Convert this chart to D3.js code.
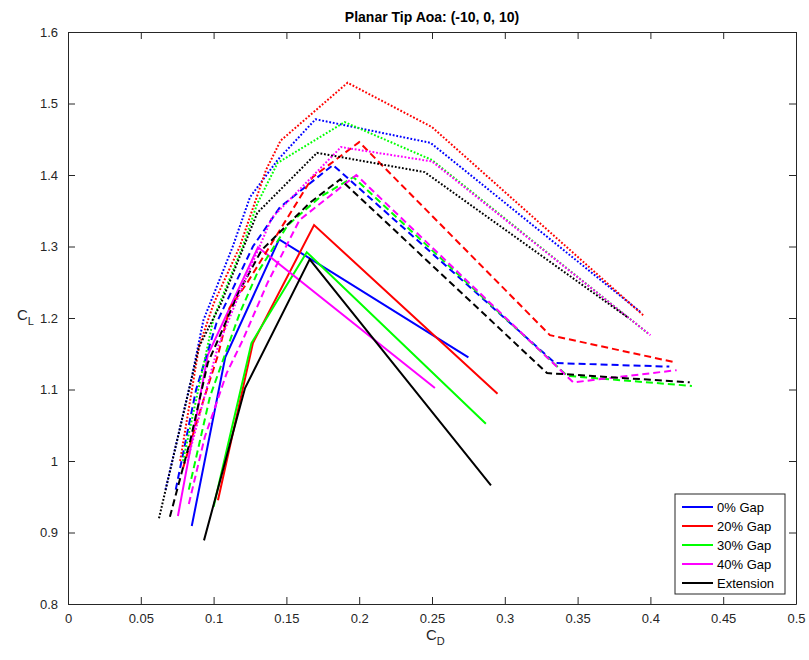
<!DOCTYPE html>
<html>
<head>
<meta charset="utf-8">
<script src="https://cdn.jsdelivr.net/npm/d3@7"></script>
<style>
  body { margin: 0; background: #fff; }
  text { font-family: "Liberation Sans", Arial, sans-serif; }
</style>
</head>
<body>
<svg id="chart"></svg>
<script>
// series names and colours
const names = ['0% Gap', '20% Gap', '30% Gap', '40% Gap', 'Extension']
const colors = ['#0000ff', '#ff0000', '#00ff00', '#ff00ff', '#000000']

// tip aoa -10 (solid), [CD, CL]
const solid = [
  [[0.085, 0.909], [0.108, 1.145], [0.145, 1.310], [0.275, 1.145]],
  [[0.103, 0.945], [0.127, 1.165], [0.169, 1.330], [0.295, 1.094]],
  [[0.100, 0.936], [0.126, 1.165], [0.164, 1.292], [0.287, 1.052]],
  [[0.0755, 0.923], [0.096, 1.148], [0.1305, 1.299], [0.252, 1.102]],
  [[0.0934, 0.889], [0.1216, 1.102], [0.166, 1.282], [0.2905, 0.966]]
]

// tip aoa 0 (dashed)
const dashed = [
  [[0.074, 0.960], [0.088, 1.100], [0.102, 1.193], [0.127, 1.300], [0.1456, 1.355], [0.182, 1.414], [0.3345, 1.137], [0.413, 1.132]],
  [[0.079, 0.990], [0.093, 1.085], [0.103, 1.148], [0.111, 1.214], [0.123, 1.249], [0.168, 1.397], [0.200, 1.446], [0.331, 1.176], [0.417, 1.138]],
  [[0.083, 0.960], [0.0907, 1.029], [0.0975, 1.090], [0.118, 1.207], [0.130, 1.263], [0.151, 1.330], [0.173, 1.369], [0.196, 1.397], [0.343, 1.119], [0.4285, 1.105]],
  [[0.083, 0.940], [0.094, 1.034], [0.102, 1.081], [0.109, 1.123], [0.120, 1.169], [0.137, 1.249], [0.159, 1.337], [0.198, 1.400], [0.347, 1.110], [0.418, 1.127]],
  [[0.070, 0.922], [0.084, 1.029], [0.096, 1.137], [0.106, 1.183], [0.117, 1.235], [0.133, 1.295], [0.166, 1.361], [0.187, 1.394], [0.329, 1.123], [0.427, 1.110]]
]

// tip aoa 10 (dotted)
const dotted = [
  [[0.067, 0.960], [0.085, 1.117], [0.093, 1.197], [0.113, 1.299], [0.125, 1.369], [0.144, 1.421], [0.170, 1.478], [0.249, 1.445], [0.394, 1.207]],
  [[0.077, 1.000], [0.090, 1.160], [0.100, 1.220], [0.118, 1.300], [0.136, 1.407], [0.146, 1.448], [0.192, 1.529], [0.250, 1.467], [0.395, 1.204]],
  [[0.079, 1.000], [0.100, 1.200], [0.120, 1.300], [0.130, 1.360], [0.144, 1.417], [0.190, 1.474], [0.250, 1.421], [0.398, 1.179]],
  [[0.082, 1.000], [0.095, 1.100], [0.103, 1.160], [0.121, 1.250], [0.140, 1.340], [0.1875, 1.439], [0.250, 1.419], [0.400, 1.176]],
  [[0.0625, 0.920], [0.090, 1.160], [0.105, 1.220], [0.130, 1.347], [0.171, 1.431], [0.245, 1.404], [0.385, 1.200]]
]

const xTicks = d3.range(0, 0.5001, 0.05)
const yTicks = d3.range(0.8, 1.6001, 0.1)

const W = 809, H = 660
const m = {left: 68, top: 32, right: 13, bottom: 56}
const svg = d3.select('#chart').attr('width', W).attr('height', H)

let x = d3.scaleLinear().domain([0, 0.5]).range([m.left, W - m.right])
let y = d3.scaleLinear().domain([0.8, 1.6]).range([H - m.bottom, m.top])

let line = d3.line().x(d => x(d[0])).y(d => y(d[1]))

let styles = [
  {data: solid, dash: null},
  {data: dashed, dash: '7,4'},
  {data: dotted, dash: '1.8,1.8'}
]

let g = svg.append('g')
styles.forEach(s => {
  g.selectAll(null)
    .data(s.data)
    .join('path')
    .attr('d', line)
    .attr('fill', 'none')
    .attr('stroke', (d, i) => colors[i])
    .attr('stroke-width', 2)
    .attr('stroke-dasharray', s.dash)
})

// axes, MATLAB style: ticks inside, mirrored on top/right
let fmt = v => d3.format('~g')(+v.toFixed(2))
let ax = svg.append('g').attr('class', 'axes')
ax.append('g')
  .attr('transform', `translate(0, ${H - m.bottom})`)
  .call(d3.axisBottom(x).tickValues(xTicks).tickSizeInner(-7).tickSizeOuter(0).tickPadding(10).tickFormat(fmt))
ax.append('g')
  .attr('transform', `translate(0, ${m.top})`)
  .call(d3.axisTop(x).tickValues(xTicks).tickSizeInner(-7).tickSizeOuter(0).tickFormat(''))
ax.append('g')
  .attr('transform', `translate(${m.left}, 0)`)
  .call(d3.axisLeft(y).tickValues(yTicks).tickSizeInner(-7).tickSizeOuter(0).tickPadding(10).tickFormat(fmt))
ax.append('g')
  .attr('transform', `translate(${W - m.right}, 0)`)
  .call(d3.axisRight(y).tickValues(yTicks).tickSizeInner(-7).tickSizeOuter(0).tickFormat(''))
ax.selectAll('.domain').attr('stroke', '#262626')
ax.selectAll('.tick line').attr('stroke', '#262626')
ax.selectAll('.tick text').attr('fill', '#262626').style('font-size', '13px')

// title and labels
svg.append('text')
  .attr('x', (m.left + W - m.right) / 2)
  .attr('y', 22)
  .attr('text-anchor', 'middle')
  .style('font-size', '14px')
  .style('font-weight', 'bold')
  .text('Planar Tip Aoa: (-10, 0, 10)')

let xl = svg.append('text')
  .attr('x', 426)
  .attr('y', 640)
  .attr('fill', '#262626')
  .style('font-size', '15px')
xl.append('tspan').text('C')
xl.append('tspan').attr('dy', 5).style('font-size', '11px').text('D')

let yl = svg.append('text')
  .attr('x', 17)
  .attr('y', 320)
  .attr('fill', '#262626')
  .style('font-size', '15px')
yl.append('tspan').text('C')
yl.append('tspan').attr('dy', 5).style('font-size', '11px').text('L')

// legend
let lg = svg.append('g').attr('transform', 'translate(675, 494)')
lg.append('rect')
  .attr('width', 110)
  .attr('height', 100)
  .attr('fill', '#fff')
  .attr('stroke', '#262626')
let rows = lg.selectAll('g')
  .data(names)
  .join('g')
  .attr('transform', (d, i) => `translate(0, ${13 + i * 19})`)
rows.append('line')
  .attr('x1', 7).attr('x2', 38)
  .attr('stroke', (d, i) => colors[i])
  .attr('stroke-width', 2)
rows.append('text')
  .attr('x', 42)
  .attr('y', 5)
  .style('font-size', '13px')
  .text(d => d)
</script>
</body>
</html>
